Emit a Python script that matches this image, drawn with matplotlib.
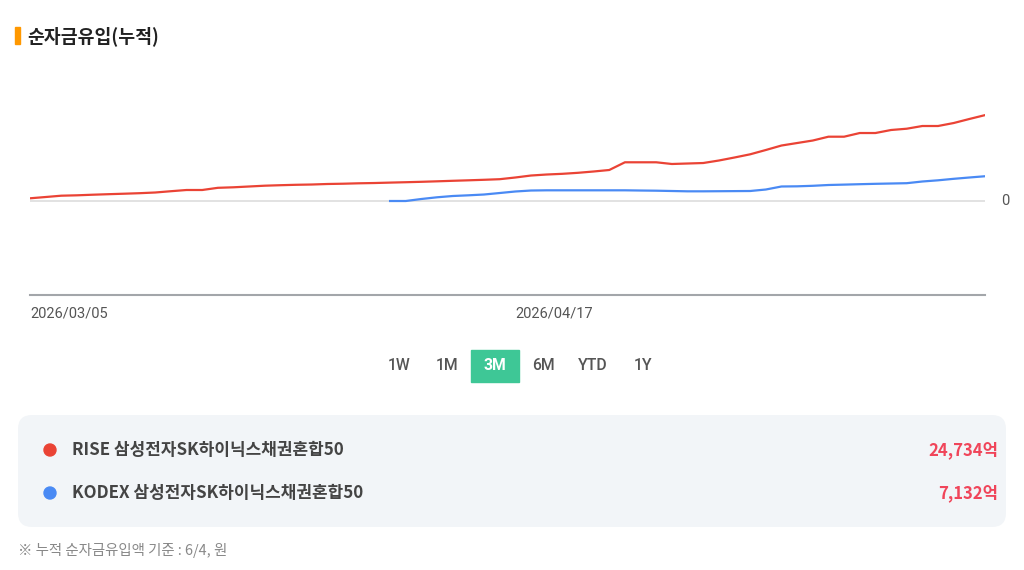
import numpy as np
import matplotlib
matplotlib.use("Agg")
import matplotlib.pyplot as plt
from matplotlib.patches import FancyBboxPatch, Circle, Rectangle

plt.rcParams['font.family'] = ['Noto Sans CJK KR', 'DejaVu Sans']

# cumulative net inflow, 억원, one value per trading day
rise = [780, 1150, 1530, 1640, 1810, 1960, 2100, 2250, 2450, 2820,
        3170, 3170, 3800, 3950, 4180, 4410, 4550, 4670, 4750, 4900,
        4980, 5100, 5180, 5300, 5410, 5530, 5670, 5820, 5960, 6110,
        6280, 6770, 7340, 7630, 7830, 8120, 8500, 8930, 11150, 11150,
        11150, 10660, 10800, 10940, 11660, 12530, 13450, 14690, 15980, 16700,
        17420, 18520, 18520, 19580, 19580, 20450, 20820, 21600, 21600, 22460,
        23620, 24734]
kodex = [None] * 23 + [
        0, 0, 580, 1070, 1440, 1640, 1870, 2300, 2740,
        3020, 3080, 3080, 3080, 3080, 3080, 3080, 3020, 2970, 2880,
        2790, 2790, 2820, 2850, 2880, 3310, 4180, 4230, 4380, 4610,
        4720, 4840, 4950, 5040, 5130, 5620, 5960, 6390, 6770, 7132]
tick_pos = [0, 31]
tick_labels = ['2026/03/05', '2026/04/17']
names = ['RISE 삼성전자SK하이닉스채권혼합50', 'KODEX 삼성전자SK하이닉스채권혼합50']
totals = ['24,734억', '7,132억']
periods = ['1W', '1M', '3M', '6M', 'YTD', '1Y']
active = '3M'

red = '#ea4335'
blue = '#4a8af4'

fig = plt.figure(figsize=(10.24, 5.7), dpi=100)
W, H = 1024, 570

# chart area: x 30..985 px, y 95..295 px
ax = fig.add_axes([30 / W, 1 - 295 / H, 955 / W, 200 / H])
x = np.arange(len(rise))
kx = np.array([i for i, v in enumerate(kodex) if v is not None])
kv = np.array([v for v in kodex if v is not None])
ax.axhline(0, color='#dddddd', lw=1.2, zorder=1)
ax.plot(x, rise, color=red, lw=1.6, zorder=3)
ax.plot(kx, kv, color=blue, lw=1.6, zorder=3)
ax.set_xlim(0, len(rise) - 1)
ax.set_ylim(-27070, 30530)
for s in ['top', 'right', 'left']:
    ax.spines[s].set_visible(False)
ax.spines['bottom'].set_color('#a3a6aa')
ax.spines['bottom'].set_linewidth(1.5)
ax.set_yticks([])
ax.set_xticks(tick_pos)
ax.set_xticklabels(tick_labels, ha='left', color='#555555', fontsize=10.5,
                   family=['Roboto', 'DejaVu Sans'])
ax.tick_params(axis='x', length=0, pad=8)
ax.text(1.0 + 20 / 955, 0, '0', transform=ax.get_yaxis_transform(),
        ha='center', va='center', fontsize=10.5, color='#555555',
        family=['Roboto', 'DejaVu Sans'])

# overlay in pixel coordinates for the page elements
ov = fig.add_axes([0, 0, 1, 1], zorder=-1)
ov.set_xlim(0, W)
ov.set_ylim(H, 0)
ov.axis('off')

# title
ov.add_patch(Rectangle((15, 27), 4.5, 17, color='#ff9800'))
ov.text(27, 36, '순자금유입(누적)', fontsize=13.2, fontweight='bold',
        color='#222222', va='center', ha='left')

# period buttons
bx = [399, 447, 495, 543, 593, 643]
for p, cx in zip(periods, bx):
    if p == active:
        ov.add_patch(Rectangle((471, 350), 48, 32, color='#3ec796'))
        ov.text(cx, 366, p, fontsize=11.3, fontweight='bold', color='white',
                ha='center', va='center', family=['Roboto', 'DejaVu Sans'])
    else:
        ov.text(cx, 366, p, fontsize=11.3, fontweight='medium', color='#555555',
                ha='center', va='center', family=['Roboto', 'DejaVu Sans'])

# legend box
ov.add_patch(FancyBboxPatch((18 + 14, 415 + 14), 988 - 28, 112 - 28,
                            boxstyle='round,pad=14', fc='#f2f5f8', ec='none'))
for cy, col, name, tot in zip([450, 493], [red, blue], names, totals):
    ov.add_patch(Circle((50, cy), 6, color=col))
    ov.text(72, cy, name, fontsize=12.2, fontweight='bold', color='#444444',
            va='center', ha='left')
    ov.text(998, cy, tot, fontsize=12, fontweight='bold', color='#f0455a',
            va='center', ha='right')

ov.text(18, 551, '※ 누적 순자금유입액 기준 : 6/4, 원', fontsize=10.4, color='#888888',
        va='center', ha='left')

fig.savefig('out.png', dpi=100)
